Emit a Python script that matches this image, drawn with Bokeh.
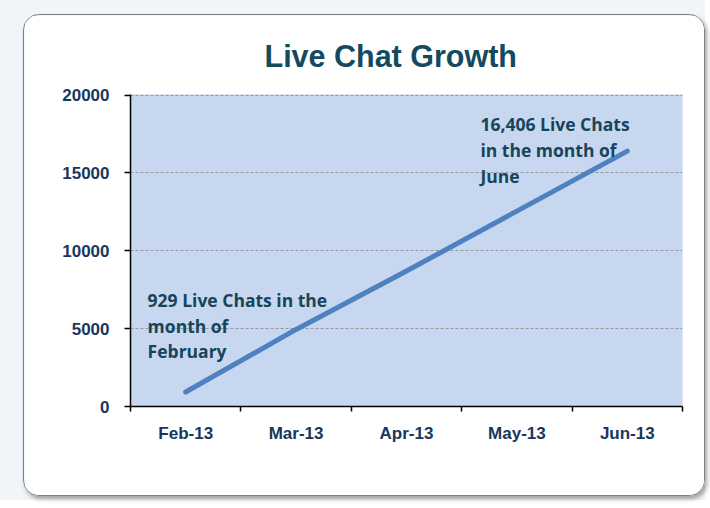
from bokeh.plotting import figure
from bokeh.models import FixedTicker, Range1d
from bokeh.layouts import column
from bokeh.embed import file_html
from bokeh.resources import INLINE
from bokeh.core.properties import value

# ---- data ----
months = ["Feb-13", "Mar-13", "Apr-13", "May-13", "Jun-13"]
chats = [929, 4950, 8700, 12550, 16406]
y_ticks = [0, 5000, 10000, 15000, 20000]
note_feb = ["929 Live Chats in the", "month of", "February"]
note_jun = ["16,406 Live Chats", "in the month of", "June"]

TEXT_DARK = "#17445A"
AXIS_TXT = "#17375E"

xc = [i + 0.5 for i in range(len(months))]          # category centres
edges = [float(i) for i in range(len(months) + 1)]  # category boundaries

p = figure(width=682, height=482,
           x_range=Range1d(0, len(months)), y_range=Range1d(0, y_ticks[-1] * 1.002),
           output_backend="svg", toolbar_location=None,
           min_border_left=106, min_border_right=24,
           min_border_top=78, min_border_bottom=91,
           title="Live Chat Growth")
p.margin = (14, 0, 4, 23)
p.styles = {"border": "1px solid #7f7f7f", "border-radius": "16px",
            "box-shadow": "2px 3px 4px rgba(0,0,0,0.35)", "overflow": "hidden"}

p.title.text_font = "Liberation Sans"
p.title.text_font_size = "30.5px"
p.title.text_font_style = "bold"
p.title.text_color = "#134A5F"
p.title.align = "left"
p.title.offset = 134
p.title.standoff = 43

p.background_fill_color = "#C6D7EF"
p.border_fill_color = "white"
p.outline_line_color = None

# axes
p.xaxis.ticker = FixedTicker(ticks=xc, minor_ticks=edges)
p.xaxis.major_label_overrides = {c: m for c, m in zip(xc, months)}
p.xaxis.major_tick_out = 0
p.xaxis.major_tick_in = 0
p.xaxis.minor_tick_out = 5
p.xaxis.minor_tick_in = 0
p.xaxis.minor_tick_line_color = "black"
p.xaxis.minor_tick_line_width = 1.5
p.xaxis.major_label_standoff = 12
p.yaxis.ticker = FixedTicker(ticks=y_ticks)
p.yaxis.major_tick_out = 6
p.yaxis.major_tick_in = 0
p.yaxis.minor_tick_line_color = None
p.yaxis.major_label_standoff = 15
for ax in (p.xaxis, p.yaxis):
    ax.axis_line_color = "black"
    ax.axis_line_width = 1.5
    ax.major_tick_line_color = "black"
    ax.major_tick_line_width = 1.5
    ax.major_label_text_font = "Liberation Sans"
    ax.major_label_text_font_size = "17px"
    ax.major_label_text_font_style = "bold"
    ax.major_label_text_color = AXIS_TXT

p.xgrid.visible = False
p.ygrid.ticker = FixedTicker(ticks=y_ticks)
p.ygrid.grid_line_color = "#979797"
p.ygrid.grid_line_dash = "3 2"
p.ygrid.grid_line_width = 1

# the series
p.line(xc, chats, line_color="#4F80BF", line_width=5, line_cap="round")

# annotations
feb_x = xc[months.index("Feb-13")] - 0.345
jun_x = xc[months.index("May-13")] - 0.33
p.text(x=[feb_x] * 3, y=[6830, 5170, 3575], text=note_feb,
       text_font=value("Open Sans"), text_font_size="17.5px", text_font_style="bold",
       text_color=TEXT_DARK, text_baseline="alphabetic", text_align="left")
p.text(x=[jun_x] * 3, y=[18150, 16470, 14810], text=note_jun,
       text_font=value("Open Sans"), text_font_size="17.5px", text_font_style="bold",
       text_color=TEXT_DARK, text_baseline="alphabetic", text_align="left")

page = column(p, styles={"background-color": "#F1F5F9"})

open("out.html", "w").write(file_html(page, INLINE))
